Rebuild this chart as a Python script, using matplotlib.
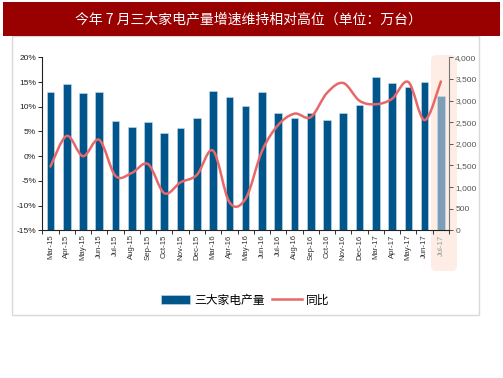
import numpy as np
import matplotlib
matplotlib.use("Agg")
import matplotlib.pyplot as plt
from matplotlib.patches import Rectangle, FancyBboxPatch, PathPatch, Patch
from matplotlib.path import Path
from matplotlib.lines import Line2D
from matplotlib.ticker import FuncFormatter, FixedLocator

plt.rcParams['font.family'] = ['Liberation Sans', 'Noto Sans CJK SC', 'DejaVu Sans']

months = ["Mar-15", "Apr-15", "May-15", "Jun-15", "Jul-15", "Aug-15", "Sep-15", "Oct-15",
          "Nov-15", "Dec-15", "Mar-16", "Apr-16", "May-16", "Jun-16", "Jul-16", "Aug-16",
          "Sep-16", "Oct-16", "Nov-16", "Dec-16", "Mar-17", "Apr-17", "May-17", "Jun-17", "Jul-17"]
production = [3205, 3380, 3168, 3198, 2530, 2392, 2511, 2243, 2358, 2603, 3228, 3075, 2867,
              3190, 2719, 2603, 2719, 2543, 2719, 2897, 3552, 3413, 3313, 3436, 3105]
yoy = [-2.1, 4.1, 0.0, 3.3, -4.0, -3.4, -1.6, -7.5, -5.3, -3.8, 1.1, -9.3, -8.6,
       1.0, 6.3, 8.6, 7.9, 12.8, 14.8, 11.2, 10.5, 11.6, 15.0, 7.3, 15.1]
title = "今年 7 月三大家电产量增速维持相对高位（单位：万台）"
bar_label = "三大家电产量"
line_label = "同比"

W, H = 503, 378
fig = plt.figure(figsize=(W / 100, H / 100), dpi=100)

def fx(px):
    return px / W

def fy(py):
    return 1 - py / H

# outer frame
fig.patches.append(Rectangle((fx(12), fy(315)), fx(467), 279 / H, transform=fig.transFigure,
                             facecolor='white', edgecolor='#D9D9D9', linewidth=1, zorder=-3))
# title bar
fig.patches.append(Rectangle((fx(3), fy(36)), fx(497), 34 / H, transform=fig.transFigure,
                             facecolor='#990000', edgecolor='none', zorder=5))
fig.text(fx(248), fy(19), title, color='white', fontsize=10, ha='center', va='center',
         family=['Noto Sans CJK SC', 'DejaVu Sans'], zorder=6)
# highlight box for last month
fig.patches.append(FancyBboxPatch((fx(431), fy(271)), fx(26), 216 / H,
                                  boxstyle="round,pad=0,rounding_size=0.012",
                                  transform=fig.transFigure, facecolor='#FDEDE4',
                                  edgecolor='none', zorder=-2))

L, R, T, B = 42.3, 449, 57.3, 230.3
ax = fig.add_axes([fx(L), fy(B), (R - L) / W, (B - T) / H])
ax2 = ax.twinx()
ax2.set_zorder(1)
ax.set_zorder(2)
ax.patch.set_visible(False)
ax2.patch.set_visible(False)

x = np.arange(len(months))
colors = ['#00558A'] * (len(months) - 1) + ['#7D9EB6']
ax2.bar(x, production, width=0.47, color=colors, edgecolor='#C9DCEB', linewidth=0.4)
ax2.set_ylim(0, 4000)
ax2.yaxis.set_major_locator(FixedLocator(np.arange(0, 4001, 500)))
ax2.yaxis.set_major_formatter(FuncFormatter(lambda v, p: f"{int(v):,}"))

# smoothed line (Catmull-Rom as cubic Bezier segments)
pts = np.column_stack([x, yoy]).astype(float)
ext = np.vstack([pts[0], pts, pts[-1]])
verts = [tuple(pts[0])]
codes = [Path.MOVETO]
for i in range(1, len(ext) - 2):
    p0, p1, p2, p3 = ext[i - 1], ext[i], ext[i + 1], ext[i + 2]
    c1 = p1 + (p2 - p0) / 6.0
    c2 = p2 - (p3 - p1) / 6.0
    verts += [tuple(c1), tuple(c2), tuple(p2)]
    codes += [Path.CURVE4] * 3
ax.add_patch(PathPatch(Path(verts, codes), facecolor='none', edgecolor='#E8686A',
                       linewidth=1.8, capstyle='round', zorder=3))
ax.set_ylim(-15, 20)
ax.set_xlim(-0.5, len(months) - 0.5)
ax.yaxis.set_major_locator(FixedLocator(np.arange(-15, 21, 5)))
ax.yaxis.set_major_formatter(FuncFormatter(lambda v, p: f"{int(v)}%"))

ax.set_xticks(x)
ax.set_xticklabels(months, rotation=90, fontsize=5.6, color='#333333')
ax.get_xticklabels()[-1].set_color('#999999')
ax.set_xticks(np.arange(-0.5, len(months), 1), minor=True)
ax.tick_params(axis='x', which='major', length=0, pad=3)
ax.tick_params(axis='x', which='minor', length=3, direction='out', color='#333333', width=0.7)
ax.tick_params(axis='y', labelsize=6, length=3, width=0.7, pad=1.5, colors='#222222')
ax2.tick_params(axis='y', labelsize=6, length=3, width=0.7, pad=1.5, colors='#555555')

for a in (ax, ax2):
    a.spines['top'].set_visible(False)
ax.spines['right'].set_visible(False)
ax.spines['left'].set_color('#222222')
ax.spines['bottom'].set_color('#222222')
ax.spines['left'].set_linewidth(0.8)
ax.spines['bottom'].set_linewidth(0.8)
ax2.spines['left'].set_visible(False)
ax2.spines['bottom'].set_visible(False)
ax2.spines['right'].set_color('#777777')
ax2.spines['right'].set_linewidth(0.8)

handles = [Patch(facecolor='#00558A', edgecolor='#C9DCEB', linewidth=0.4),
           Line2D([0], [0], color='#E8686A', linewidth=1.8)]
fig.legend(handles, [bar_label, line_label], loc='center', bbox_to_anchor=(fx(245), fy(300)),
           ncol=2, frameon=False, handlelength=2.5, handleheight=0.9,
           handletextpad=0.35, columnspacing=0.6,
           prop={'family': ['Noto Sans CJK SC', 'DejaVu Sans'], 'size': 8.5})

fig.savefig("out.png", dpi=100)
